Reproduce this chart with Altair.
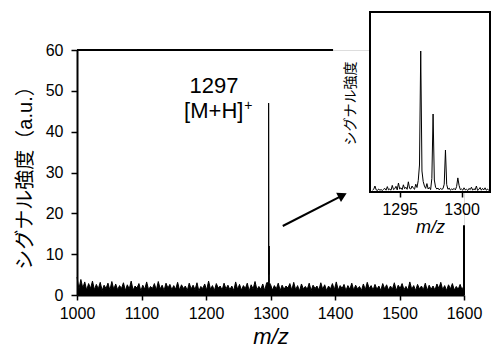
import altair as alt
import pandas as pd

FONT = "Liberation Sans, Noto Sans CJK JP, sans-serif"

# ---------------- main spectrum (m/z 1000-1600, sampled every 3) ----------------
main_noise = [
    4.4, 1.5, 3.8, 1.7, 3.2, 1.2, 2.8, 1.6, 3.4, 1.3, 2.6, 1.5, 3.1, 1.1, 2.4, 1.6, 2.9, 1.2, 3.3, 1.4,
    2.7, 1.3, 2.3, 1.6, 3.0, 1.1, 2.5, 1.5, 3.4, 1.2, 2.2, 1.7, 2.8, 1.0, 2.4, 1.4, 3.2, 1.3, 2.1, 1.6,
    2.8, 1.2, 3.3, 1.5, 2.4, 1.1, 2.9, 1.7, 2.6, 1.3, 2.3, 1.4, 3.1, 1.2, 2.5, 1.6, 2.2, 1.1, 2.9, 1.5,
    2.4, 1.3, 3.0, 1.0, 2.1, 1.6, 2.7, 1.2, 3.4, 1.4, 2.3, 1.1, 2.8, 1.7, 2.2, 1.2, 2.9, 1.5, 2.4, 1.3,
    2.2, 1.1, 3.2, 1.4, 2.6, 1.2, 2.3, 1.6, 2.9, 1.0, 2.5, 1.5, 3.3, 1.3, 2.1, 1.4, 2.7, 1.1, 3.0, 1.6,
    2.6, 1.2, 2.3, 1.5, 2.9, 1.1, 2.4, 1.4, 2.2, 1.7, 2.8, 1.2, 3.1, 1.3, 2.3, 1.0, 2.7, 1.5, 2.1, 1.4,
    2.9, 1.1, 2.4, 1.6, 2.2, 1.2, 3.0, 1.4, 2.5, 1.1, 2.2, 1.5, 2.8, 1.3, 3.2, 1.2, 2.3, 1.6, 2.6, 1.1,
    2.3, 1.4, 2.9, 1.2, 2.4, 1.5, 2.1, 1.1, 2.7, 1.3, 3.1, 1.6, 2.3, 1.2, 2.6, 1.4, 2.2, 1.1, 2.8, 1.5,
    2.5, 1.2, 2.2, 1.4, 3.0, 1.1, 2.4, 1.6, 2.8, 1.3, 2.1, 1.2, 3.2, 1.4, 2.3, 1.1, 2.6, 1.5, 2.2, 1.3,
    2.9, 1.1, 2.4, 1.4, 2.2, 1.2, 2.7, 1.6, 3.1, 1.3, 2.3, 1.1, 2.5, 1.5, 2.8, 1.2, 2.1, 1.4, 2.6, 1.2,
    2.4,
]
main_start = 1000
main_step = 3
peak_mz = [1296.8, 1297.1, 1297.5, 1297.9, 1298.3]
peak_int = [3.0, 47.0, 5.0, 12.0, 3.0]

x_ticks = [1000, 1100, 1200, 1300, 1400, 1500, 1600]
y_ticks = [0, 10, 20, 30, 40, 50, 60]

# ---------------- inset spectrum (m/z 1292.8-1302.2, sampled every 0.1) ----------------
inset_int = [
    0.6, 0.9, 2.0, 0.7, 0.5, 1.0, 0.6, 0.8, 0.5, 0.9,
    1.2, 0.6, 1.8, 0.7, 1.0, 0.6, 2.2, 0.8, 1.1, 1.9,
    0.7, 3.0, 1.0, 1.4, 0.8, 2.4, 1.1, 1.6, 0.9, 3.4,
    1.2, 1.0, 2.0, 1.3, 0.9, 2.6, 1.5, 3.8, 9.0, 47.0,
    7.0, 3.5, 2.0, 1.2, 2.8, 1.0, 1.5, 0.8, 4.5, 26.0,
    4.0, 1.6, 1.0, 1.3, 0.7, 1.2, 0.9, 1.1, 2.6, 14.0,
    2.5, 0.9, 1.3, 0.6, 1.0, 0.8, 1.2, 0.7, 1.8, 4.7,
    2.2, 0.8, 1.0, 0.6, 1.4, 0.7, 0.9, 0.5, 1.2, 0.8,
    1.6, 0.6, 1.1, 0.7, 2.0, 0.5, 0.9, 1.5, 0.6, 1.2,
    0.7, 1.4, 0.6, 1.0, 0.5,
]
inset_start = 1292.8
inset_step = 0.1
inset_domain = [1292.6, 1302.3]
inset_ticks = [1295, 1300]

# ---------------- annotation anchors (data units) ----------------
frame_x = [1000, 1600]
frame_x2 = [1397, 1600]
frame_y = [60, 0]
frame_y2 = [60, 17.1]

ann_x = [1212.4, 1212.0]
ann_y = [49.5, 43.3]
ann_text = ["1297", "[M+H]"]
sup_x = [1265.5]
sup_y = [46.3]
sup_text = ["+"]

arrow_x = [1319.0]
arrow_y = [16.9]
arrow_x2 = [1411.8]
arrow_y2 = [24.4]

inset_label_x = [1291.1]
inset_label_y = [29.5]
inset_label_text = ["シグナル強度"]

# ---------------- data frames ----------------
main_df = pd.DataFrame({
    "mz": [main_start + main_step * i for i in range(len(main_noise))] + peak_mz,
    "inten": main_noise + peak_int,
}).sort_values("mz")

inset_df = pd.DataFrame({
    "mz": [round(inset_start + inset_step * i, 1) for i in range(len(inset_int))],
    "inten": inset_int,
})

main_xs = alt.Scale(domain=[1000, 1600], nice=False, zero=False)
main_ys = alt.Scale(domain=[0, 60], nice=False)

axis_common = dict(
    grid=False, domainColor="black", tickColor="black", labelColor="black",
    titleColor="black", labelFont=FONT, titleFont=FONT, labelFontSize=16,
    titleFontWeight="normal",
)

main_area = alt.Chart(main_df).mark_area(color="black", opacity=1).encode(
    x=alt.X("mz:Q", scale=main_xs, axis=alt.Axis(
        values=x_ticks, title="m/z", titleFontStyle="italic", titleFontSize=22,
        tickSize=5, domainWidth=2, tickWidth=1.5, labelPadding=5, titlePadding=5,
        labelFlush=False, format="d", **axis_common)),
    y=alt.Y("inten:Q", scale=main_ys, axis=alt.Axis(
        values=y_ticks, title="シグナル強度（a.u.）", titleFontSize=20,
        tickSize=6, domainWidth=2, tickWidth=1.5, labelPadding=8, titlePadding=10,
        **axis_common)),
)
main_line = alt.Chart(main_df).mark_line(color="black", strokeWidth=1).encode(
    x=alt.X("mz:Q", scale=main_xs), y=alt.Y("inten:Q", scale=main_ys))

frame = alt.Chart(pd.DataFrame({"x": frame_x, "x2": frame_x2, "y": frame_y, "y2": frame_y2})).mark_rule(
    color="black", strokeWidth=2).encode(
    x=alt.X("x:Q", scale=main_xs), x2="x2:Q",
    y=alt.Y("y:Q", scale=main_ys), y2="y2:Q",
)

ann = alt.Chart(pd.DataFrame({"x": ann_x, "y": ann_y, "t": ann_text})).mark_text(
    font=FONT, fontSize=22, color="black", align="center", baseline="alphabetic").encode(
    x=alt.X("x:Q", scale=main_xs), y=alt.Y("y:Q", scale=main_ys), text="t:N")

sup = alt.Chart(pd.DataFrame({"x": sup_x, "y": sup_y, "t": sup_text})).mark_text(
    font=FONT, fontSize=14, color="black", align="center", baseline="middle").encode(
    x=alt.X("x:Q", scale=main_xs), y=alt.Y("y:Q", scale=main_ys), text="t:N")

arrow_df = pd.DataFrame({"x": arrow_x, "y": arrow_y, "x2": arrow_x2, "y2": arrow_y2})
arrow_line = alt.Chart(arrow_df).mark_rule(color="black", strokeWidth=2).encode(
    x=alt.X("x:Q", scale=main_xs), x2="x2:Q",
    y=alt.Y("y:Q", scale=main_ys), y2="y2:Q")
arrow_head = alt.Chart(arrow_df).mark_point(
    shape="triangle-up", filled=True, size=110, angle=62.7, color="black", opacity=1).encode(
    x=alt.X("x2:Q", scale=main_xs), y=alt.Y("y2:Q", scale=main_ys))

main_layer = alt.layer(main_area, main_line, frame, ann, sup, arrow_line, arrow_head)

# ---------------- inset ----------------
ixs = alt.Scale(domain=inset_domain, range=[293, 413], nice=False, zero=False)
iys = alt.Scale(domain=[0, 60], range=[142, -38], nice=False)

inset_frame = alt.Chart(pd.DataFrame({"x": [inset_domain[0]], "x2": [inset_domain[1]],
                                      "y": [0], "y2": [60]})).mark_rect(
    fill="white", stroke="black", strokeWidth=2).encode(
    x=alt.X("x:Q", scale=ixs, axis=alt.Axis(
        orient="bottom", offset=-103, values=inset_ticks, title="m/z",
        titleFontStyle="italic", titleFontSize=18, tickSize=5, tickWidth=1.5,
        domain=False, labelPadding=4, titlePadding=1, format="d", **axis_common)),
    x2="x2:Q",
    y=alt.Y("y:Q", scale=iys, axis=None), y2="y2:Q")

inset_line = alt.Chart(inset_df).mark_line(color="black", strokeWidth=1).encode(
    x=alt.X("mz:Q", scale=ixs), y=alt.Y("inten:Q", scale=iys))

inset_label = alt.Chart(pd.DataFrame({"x": inset_label_x, "y": inset_label_y, "t": inset_label_text})).mark_text(
    font="Noto Sans CJK JP", fontSize=14, color="black", angle=270, align="center", baseline="middle").encode(
    x=alt.X("x:Q", scale=ixs), y=alt.Y("y:Q", scale=iys), text="t:N")

inset_layer = alt.layer(inset_frame, inset_line, inset_label)

chart = alt.layer(main_layer, inset_layer).resolve_scale(
    x="independent", y="independent").properties(
    width=387, height=245,
    padding={"left": 69, "top": 42, "right": 28, "bottom": 56},
    autosize=alt.AutoSizeParams(type="none"),
).configure_view(stroke=None).configure(font=FONT)

chart.save("out.html", embed_options={"renderer": "svg", "actions": False})
